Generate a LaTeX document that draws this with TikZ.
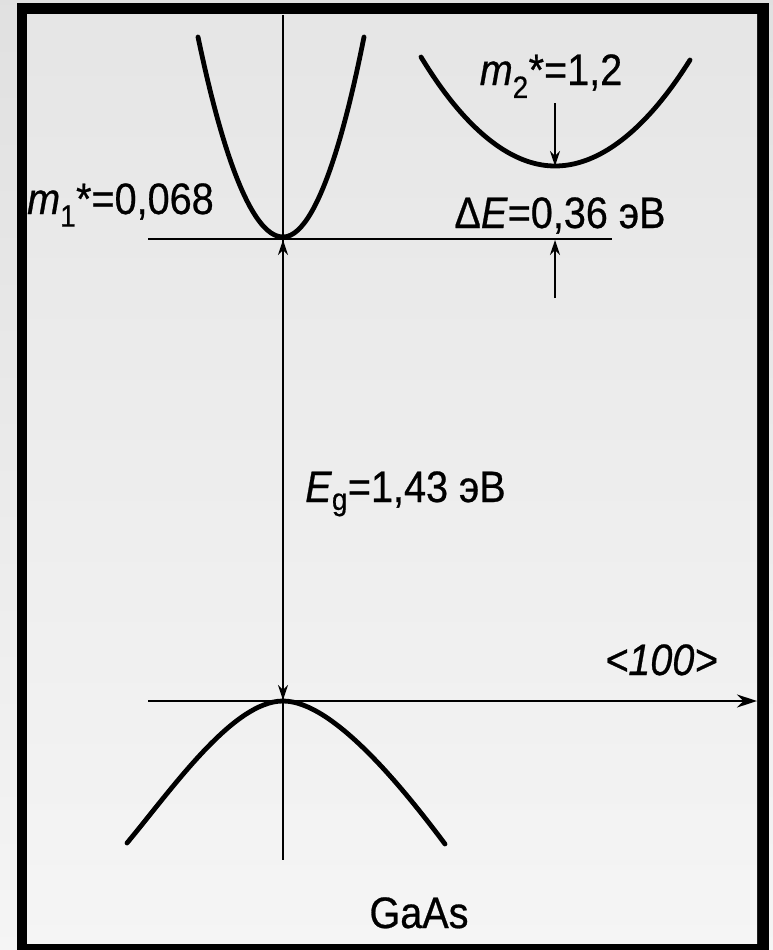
\documentclass[tikz,border=0pt]{standalone}
\usepackage{fontspec}
\setmainfont{Liberation Sans}[FakeStretch=0.9, FakeBold=0.6]
\usetikzlibrary{arrows.meta}
\tikzset{
  band/.style={line width=4.8pt, line cap=round},
  axisline/.style={line width=1.8pt},
  tip/.style={-{Stealth[length=15pt,width=10pt]}},
  lbl/.style={inner sep=0pt, anchor=base, font=\fontsize{44}{50}\selectfont},
}

\begin{document}
\begin{tikzpicture}[x=1pt,y=-1pt]
    % Fix the page size
    \useasboundingbox (0,0) rectangle (773,950);
    % Draw the background and the frame
    \shade[top color=gray!24, bottom color=gray!8] (0,0) rectangle (773,950);
    \fill[black] (17,3) rectangle (769,950);
    \shade[top color=gray!20, bottom color=gray!8] (27,15) rectangle (757,943);

    % Define the points
    \coordinate (top) at (283,15);
    \coordinate (bottom) at (283,860);
    \coordinate (Ec) at (283,237);
    \coordinate (Ev) at (283,701);
    \coordinate (EcL) at (148,239);
    \coordinate (EcR) at (612,239);
    \coordinate (kL) at (148,701);
    \coordinate (kR) at (757,701);
    \coordinate (Emin) at (555,166);
    \coordinate (dEtop) at (555,103);
    \coordinate (dEbot) at (555,298);
    \coordinate (dEc) at (555,240);
    \coordinate (EgT) at (283,240);
    \coordinate (EgB) at (283,700);

    % Draw the axes and levels
    \draw[axisline] (top) -- (bottom);
    \draw[axisline] (EcL) -- (EcR);
    \draw[axisline, -{Stealth[length=20pt,width=13pt]}] (kL) -- (kR);
    % Eg and Delta E arrows
    \draw[axisline, {Stealth[length=15pt,width=10pt]}-{Stealth[length=15pt,width=10pt]}] (EgT) -- (EgB);
    \draw[axisline, tip] (dEtop) -- (Emin);
    \draw[axisline, tip] (dEbot) -- (dEc);

    % Draw the bands
    \draw[band] (198,37) parabola bend (Ec) (364,37);
    \draw[band] (421,57) parabola bend (Emin) (690,60);
    \draw[band] (127,843) .. controls (172,789) and (233,701) .. (Ev) .. controls (333,701) and (403,788) .. (445,844);

    % Labels
    \node at (27,214) [lbl, anchor=base west] (m1) {\textit{m}\textsubscript{1}*=0,068};
    \node at (551,85) [lbl] (m2) {\textit{m}\textsubscript{2}*=1,2};
    \node at (560,228) [lbl] (dE) {Δ\textit{E}=0,36 эВ};
    \node at (305,502) [lbl, anchor=base west] (Eg) {\textit{E}\textsubscript{g}=1,43 эВ};
    \node at (605,675) [lbl, anchor=base west] (dir) {\textit{<100>}};
    \node at (419,928) [lbl] (name) {GaAs};
\end{tikzpicture}
\end{document}
